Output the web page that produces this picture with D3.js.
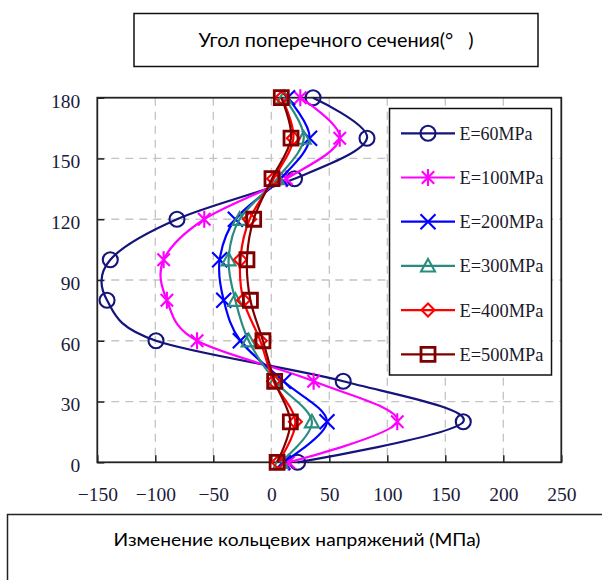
<!DOCTYPE html>
<html>
<head>
<meta charset="utf-8">
<script src="https://cdn.jsdelivr.net/npm/d3@7"></script>
<style>
  html, body { margin: 0; padding: 0; background: #fff; }
  svg { display: block; }
</style>
</head>
<body>
<script>
// Hoop stress change around the cross-section for several moduli E
const angles = [0, 20, 40, 60, 80, 100, 120, 140, 160, 180];
const seriesNames = ["E=60MPa", "E=100MPa", "E=200MPa", "E=300MPa", "E=400MPa", "E=500MPa"];
const stressE60  = [22.7, 165.5, 62, -99.4, -141.6, -138.8, -81.3, 20, 82.5, 36];
const stressE100 = [15, 108.6, 36.5, -64, -90, -92.8, -57.8, 13, 59, 25];
const stressE200 = [10, 48, 10.6, -26.7, -41, -44.5, -31, 8, 33, 14];
const stressE300 = [8, 35, 3.4, -19.5, -31, -36.8, -27.3, 5, 28, 11];
const stressE400 = [6, 20.7, 2, -9.5, -24, -26.7, -18.7, 2, 19, 9];
const stressE500 = [5, 16.4, 2.9, -7.2, -18, -21, -15.2, 0.6, 17, 8.6];
const xTicks = [-150, -100, -50, 0, 50, 100, 150, 200, 250];
const yTicks = [0, 30, 60, 90, 120, 150, 180];
const titleTop = "Угол поперечного сечения(°\u2002 )";
const titleBottom = "Изменение кольцевих напряжений (МПа)";

const seriesValues = [stressE60, stressE100, stressE200, stressE300, stressE400, stressE500];
const colors = ["#14147a", "#ff00ff", "#0000ff", "#2a8c80", "#ff0000", "#800000"];
const shapes = ["circle", "asterisk", "times", "triangle", "diamond", "square"];

const W = 602, H = 580;
const plot = { left: 97.3, right: 561.3, top: 97.7, bottom: 462.3 };

const svg = d3.select("body").append("svg")
  .attr("width", W).attr("height", H);

const x = d3.scaleLinear().domain([-150, 250]).range([plot.left, plot.right]);
const y = d3.scaleLinear().domain([0, 180]).range([plot.bottom, plot.top]);

// Title boxes
svg.append("rect").attr("x", 134).attr("y", 13.5).attr("width", 404).attr("height", 53)
  .attr("fill", "#fff").attr("stroke", "#111").attr("stroke-width", 1.5);
svg.append("text").attr("x", 336).attr("y", 47)
  .attr("text-anchor", "middle")
  .attr("font-family", "Lato, 'Open Sans', sans-serif").attr("font-size", 18.5)
  .attr("fill", "#000").style("white-space", "pre")
  .attr("textLength", 275).attr("lengthAdjust", "spacingAndGlyphs")
  .text(titleTop);

svg.append("rect").attr("x", 7.5).attr("y", 514.5).attr("width", 620).attr("height", 80)
  .attr("fill", "#fff").attr("stroke", "#222").attr("stroke-width", 1.5);
svg.append("text").attr("x", 297).attr("y", 546)
  .attr("text-anchor", "middle")
  .attr("font-family", "Lato, 'Open Sans', sans-serif").attr("font-size", 18)
  .attr("fill", "#000")
  .attr("textLength", 367).attr("lengthAdjust", "spacingAndGlyphs")
  .text(titleBottom);

// Grid
const grid = svg.append("g").attr("stroke", "#c4c4c4").attr("stroke-width", 1.3)
  .attr("stroke-dasharray", "8,6");
xTicks.slice(1, -1).forEach(t => {
  grid.append("line").attr("x1", x(t)).attr("x2", x(t))
    .attr("y1", plot.top).attr("y2", plot.bottom);
});
yTicks.slice(1, -1).forEach(t => {
  grid.append("line").attr("x1", plot.left).attr("x2", plot.right)
    .attr("y1", y(t)).attr("y2", y(t));
});

// Axes with inward ticks
const xAxis = d3.axisBottom(x).tickValues(xTicks).tickSizeInner(-7).tickSizeOuter(0)
  .tickPadding(25).tickFormat(d => d < 0 ? "\u2212" + Math.abs(d) : d);
const yAxis = d3.axisLeft(y).tickValues(yTicks).tickSizeInner(-7).tickSizeOuter(0)
  .tickPadding(17);

const gx = svg.append("g").attr("transform", `translate(0,${plot.bottom})`).call(xAxis);
const gy = svg.append("g").attr("transform", `translate(${plot.left},0)`).call(yAxis);
[gx, gy].forEach(g => {
  g.select(".domain").remove();
  g.selectAll(".tick line").attr("stroke", "#222").attr("stroke-width", 1.5);
  g.selectAll(".tick text").attr("font-family", "'Liberation Serif', 'DejaVu Serif', serif")
    .attr("font-size", 19.5).attr("fill", "#1a1a3a");
});
gy.selectAll(".tick text").attr("dy", "0.48em");

// Plot frame
svg.append("rect").attr("x", plot.left).attr("y", plot.top)
  .attr("width", plot.right - plot.left).attr("height", plot.bottom - plot.top)
  .attr("fill", "none").attr("stroke", "#222").attr("stroke-width", 1.8);

// Marker paths centred on 0,0
function markerPath(shape) {
  switch (shape) {
    case "circle": {
      const r = 7.5;
      return `M${r},0A${r},${r} 0 1,1 ${-r},0A${r},${r} 0 1,1 ${r},0Z`;
    }
    case "asterisk": {
      const r = 8.5, d = 6.2;
      return `M0,${-r}V${r}M${-d},${-d}L${d},${d}M${-d},${d}L${d},${-d}`;
    }
    case "times": {
      const d = 7.5;
      return `M${-d},${-d}L${d},${d}M${-d},${d}L${d},${-d}`;
    }
    case "triangle": {
      const s = 7;
      return `M0,${-s}L${s},${s * 0.8}L${-s},${s * 0.8}Z`;
    }
    case "diamond": {
      const s = 6.5;
      return `M0,${-s}L${s},0L0,${s}L${-s},0Z`;
    }
    case "square": {
      const s = 7;
      return `M${-s},${-s}H${s}V${s}H${-s}Z`;
    }
  }
}

const line = d3.line()
  .x(d => x(d.v)).y(d => y(d.a))
  .curve(d3.curveCardinal.tension(0));

const seriesG = svg.append("g");
seriesValues.forEach((vals, i) => {
  const pts = angles.map((a, k) => ({ a, v: vals[k] }));
  const g = seriesG.append("g");
  g.append("path").datum(pts).attr("d", line)
    .attr("fill", "none").attr("stroke", colors[i]).attr("stroke-width", 2.2);
  g.selectAll("path.m").data(pts).join("path").attr("class", "m")
    .attr("transform", d => `translate(${x(d.v)},${y(d.a)})`)
    .attr("d", markerPath(shapes[i]))
    .attr("fill", "none").attr("stroke", colors[i])
    .attr("stroke-width", i === 5 ? 2.8 : 2.1);
});

// Legend
const lg = svg.append("g");
lg.append("rect").attr("x", 389.5).attr("y", 108.5).attr("width", 162).attr("height", 266.5)
  .attr("fill", "#fff").attr("stroke", "#111").attr("stroke-width", 1.5);
seriesNames.forEach((name, i) => {
  const cy = 133.3 + i * 44.2;
  const row = lg.append("g");
  row.append("line").attr("x1", 401).attr("x2", 455).attr("y1", cy).attr("y2", cy)
    .attr("stroke", colors[i]).attr("stroke-width", 2.2);
  row.append("path").attr("transform", `translate(428,${cy})`)
    .attr("d", markerPath(shapes[i])).attr("fill", "none")
    .attr("stroke", colors[i]).attr("stroke-width", i === 5 ? 2.8 : 2.1);
  row.append("text").attr("x", 459.5).attr("y", cy + 6.5)
    .attr("font-family", "'Liberation Serif', 'DejaVu Serif', serif").attr("font-size", 19)
    .attr("fill", "#1a1a2a")
    .attr("textLength", name.length === 7 ? 73 : 84).attr("lengthAdjust", "spacingAndGlyphs")
    .text(name);
});
</script>
</body>
</html>
